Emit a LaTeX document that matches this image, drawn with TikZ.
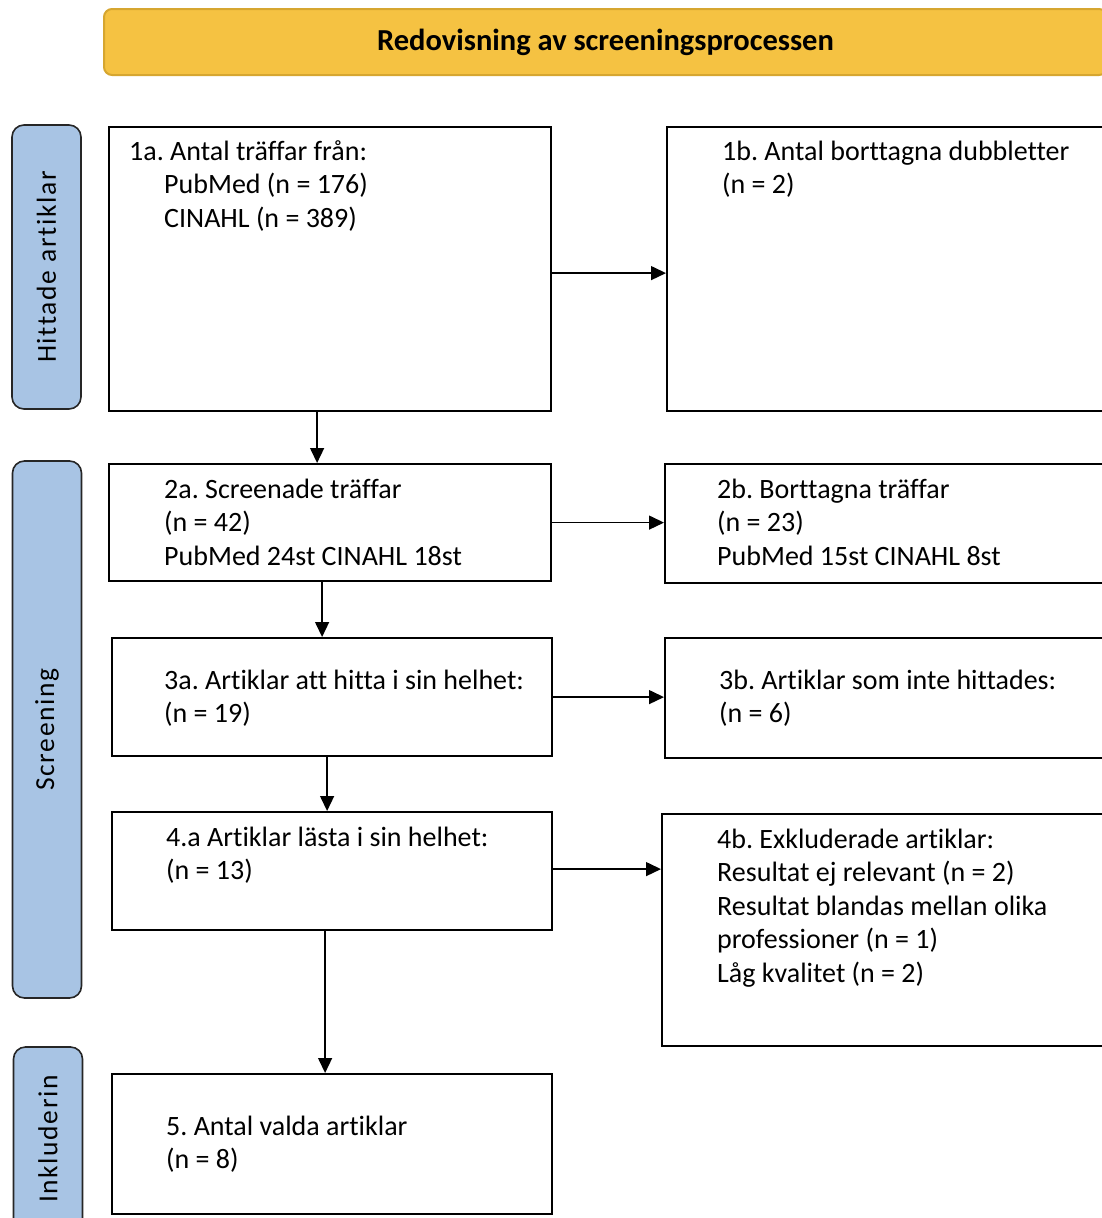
\documentclass[tikz,border=0pt]{standalone}
\usepackage{fontspec}
\setmainfont{Carlito}[Ligatures=NoCommon]
\usetikzlibrary{arrows.meta}
\frenchspacing
\definecolor{bannerfill}{RGB}{245,194,66}
\definecolor{bannerdraw}{RGB}{214,166,48}
\definecolor{phasefill}{RGB}{168,196,228}
\tikzset{
  box/.style={draw=black, line width=2.2pt, anchor=north west, inner sep=0pt},
  phase/.style={draw=black!85, line width=1.6pt, fill=phasefill, rounded corners=12pt,
    inner sep=0pt, rotate=90, minimum height=69pt,
    font=\fontsize{27.5}{33}\selectfont\addfontfeatures{LetterSpace=6}},
  txt/.style={anchor=base west, align=left, inner sep=0pt, font=\fontsize{28}{33.5}\selectfont},
  flow/.style={-{Triangle[length=15pt,width=14pt]}, line width=1.4pt},
}
\begin{document}
\begin{tikzpicture}[x=1pt,y=-1pt]
  \useasboundingbox (0,0) rectangle (1101,1218);
  % banner
  \node[draw=bannerdraw, line width=2pt, fill=bannerfill, rounded corners=8pt,
    anchor=north west, minimum width=1003pt, minimum height=66pt,
    font=\bfseries\fontsize{30.5}{33}\selectfont] (title) at (103,8) {Redovisning av screeningsprocessen};
  % phases
  \node[phase, minimum width=284pt] (p1) at (46.5,267) {Hittade artiklar};
  \node[phase, minimum width=537pt] (p2) at (47,729.5) {Screening};
  \node[phase, minimum width=184pt] (p3) at (48,1139) {Inkluderin};
  % boxes
  \node[box, minimum width=442pt, minimum height=284pt] (b1a) at (108,126) {};
  \node[box, minimum width=450pt, minimum height=284pt] (b1b) at (666,126) {};
  \node[box, minimum width=442pt, minimum height=117pt] (b2a) at (108,463) {};
  \node[box, minimum width=450pt, minimum height=119pt] (b2b) at (664,463) {};
  \node[box, minimum width=440pt, minimum height=118pt] (b3a) at (111,637) {};
  \node[box, minimum width=450pt, minimum height=120pt] (b3b) at (664,637) {};
  \node[box, minimum width=440pt, minimum height=118pt] (b4a) at (111,811) {};
  \node[box, minimum width=450pt, minimum height=232pt] (b4b) at (661,813) {};
  \node[box, minimum width=440pt, minimum height=140pt] (b5) at (111,1073) {};
  % texts (base = last line)
  \node[txt] (t1a) at (129,227) {1a. Antal träffar från:\\\hspace*{35pt}PubMed (n = 176)\\\hspace*{35pt}CINAHL (n = 389)};
  \node[txt] (t1b) at (722,193.5) {1b. Antal borttagna dubbletter\\(n = 2)};
  \node[txt] (t2a) at (164,565) {2a. Screenade träffar\\(n = 42)\\PubMed 24st CINAHL 18st};
  \node[txt] (t2b) at (717,565) {2b. Borttagna träffar\\(n = 23)\\PubMed 15st CINAHL 8st};
  \node[txt] (t3a) at (164,722.5) {3a. Artiklar att hitta i sin helhet:\\(n = 19)};
  \node[txt] (t3b) at (719,722.5) {3b. Artiklar som inte hittades:\\(n = 6)};
  \node[txt] (t4a) at (166,879.5) {4.a Artiklar lästa i sin helhet:\\(n = 13)};
  \node[txt] (t4b) at (717,982) {4b. Exkluderade artiklar:\\Resultat ej relevant (n = 2)\\Resultat blandas mellan olika\\professioner (n = 1)\\Låg kvalitet (n = 2)};
  \node[txt] (t5) at (166,1168.5) {5. Antal valda artiklar\\(n = 8)};
  % arrows
  \draw[flow] ([yshift=-4pt]b1a.east) -- ([yshift=-4pt]b1a.east -| b1b.west);
  \draw[flow] (b2a.east) -- (b2a.east -| b2b.west);
  \draw[flow] (b3a.east) -- (b3a.east -| b3b.west);
  \draw[flow] ([yshift=2pt]b4a.east) -- ([yshift=2pt]b4a.east -| b4b.west);
  \draw[flow] ([xshift=-13pt]b1a.south) -- ([xshift=-13pt]b1a.south |- b2a.north);
  \draw[flow] ([xshift=-8pt]b2a.south) -- ([xshift=-8pt]b2a.south |- b3a.north);
  \draw[flow] ([xshift=-5pt]b3a.south) -- ([xshift=-5pt]b3a.south |- b4a.north);
  \draw[flow] ([xshift=-7pt]b4a.south) -- ([xshift=-7pt]b4a.south |- b5.north);
\end{tikzpicture}
\end{document}
